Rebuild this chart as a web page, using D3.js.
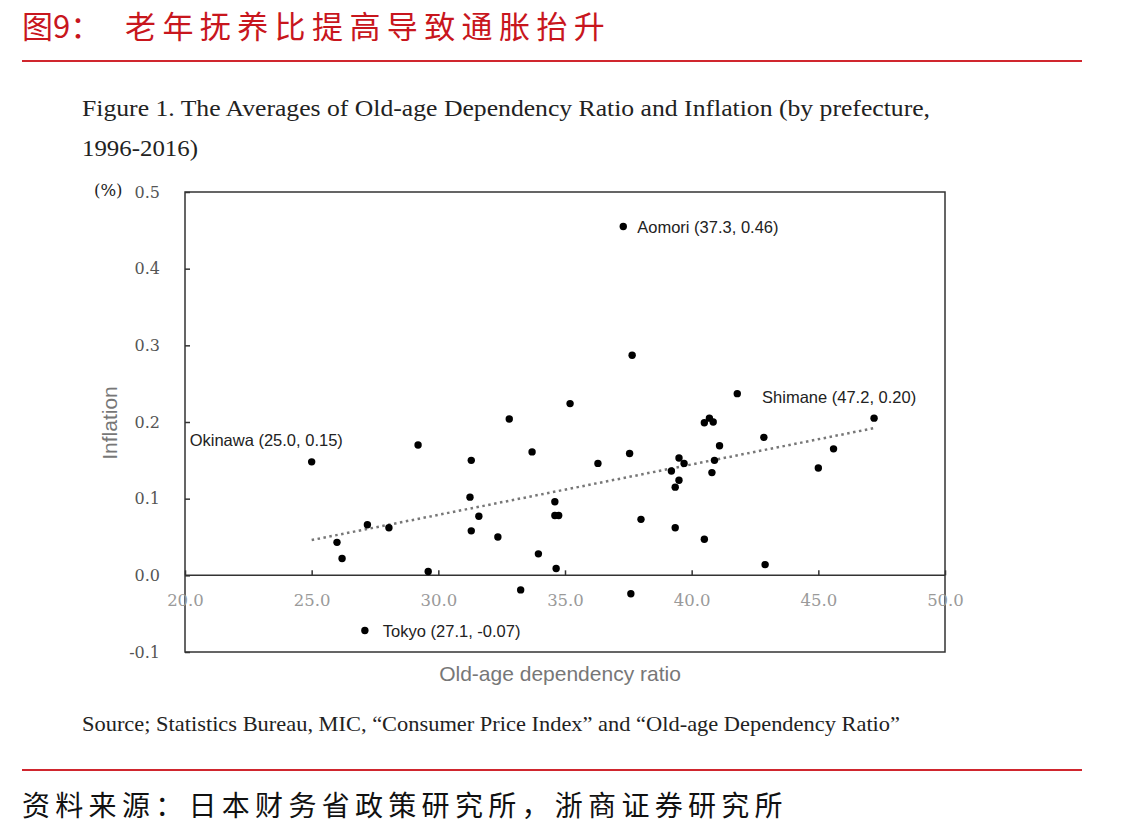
<!DOCTYPE html>
<html><head><meta charset="utf-8">
<script src="https://cdn.jsdelivr.net/npm/d3@7"></script>
<style>body{margin:0;background:#fff;}svg{display:block;}</style>
</head><body>
<script>
// Data: prefecture averages 1996-2016 (old-age dependency ratio %, inflation %)
const ratio = [25.0,26.0,26.2,27.1,27.2,28.05,29.2,29.6,31.3,31.25,31.6,31.3,32.35,32.8,33.25,33.7,33.95,34.6,34.6,34.75,34.65,35.2,36.3,37.3,37.65,37.55,37.6,38.0,39.2,39.5,39.7,39.5,39.35,39.35,40.5,40.7,40.85,40.9,40.8,41.1,40.5,41.8,42.85,42.9,45.0,45.6,47.2];
const inflation = [0.148,0.043,0.022,-0.072,0.066,0.062,0.170,0.005,0.150,0.102,0.077,0.058,0.050,0.204,-0.019,0.161,0.028,0.096,0.078,0.078,0.009,0.224,0.146,0.455,0.287,0.159,-0.024,0.073,0.136,0.153,0.146,0.124,0.115,0.062,0.199,0.205,0.200,0.150,0.134,0.169,0.047,0.237,0.180,0.014,0.140,0.165,0.205];
const trendX = [25.0, 47.2];
const trendY = [0.046, 0.192];
const xTicks = [20,25,30,35,40,45,50];
const yTicks = [-0.1,0.0,0.1,0.2,0.3,0.4,0.5];
const labels = [
  {text:"Aomori (37.3, 0.46)", x:37.3, y:0.455},
  {text:"Shimane (47.2, 0.20)", x:47.2, y:0.205},
  {text:"Okinawa (25.0, 0.15)", x:25.0, y:0.148},
  {text:"Tokyo (27.1, -0.07)", x:27.1, y:-0.072}
];

const W=1141,H=838;
const svg=d3.select("body").append("svg").attr("width",W).attr("height",H);
const red="#c8161d";
const cjk="'Noto Sans CJK SC','Noto Sans CJK JP',sans-serif";
const serif="'Liberation Serif','Times New Roman',serif";
const tickFont="'DejaVu Serif',serif";
const sans="'Liberation Sans',Arial,sans-serif";
const fmt=d=>d3.format(".1f")(d).replace("−","-");

svg.append("text").attr("x",22).attr("y",38).attr("fill",red).attr("font-family",cjk)
  .attr("font-size",31).text("图9：");
svg.append("text").attr("x",125).attr("y",38).attr("fill",red).attr("font-family",cjk)
  .attr("font-size",31).attr("letter-spacing",6.4).text("老年抚养比提高导致通胀抬升");
svg.append("line").attr("x1",22).attr("x2",1082).attr("y1",61).attr("y2",61).attr("stroke","#d0262e").attr("stroke-width",2);

svg.append("text").attr("x",82).attr("y",116).attr("fill","#222").attr("font-family",serif).attr("font-size",23.5)
  .attr("textLength",848).attr("lengthAdjust","spacingAndGlyphs")
  .text("Figure 1. The Averages of Old-age Dependency Ratio and Inflation (by prefecture,");
svg.append("text").attr("x",82).attr("y",156).attr("fill","#222").attr("font-family",serif).attr("font-size",23.5)
  .attr("textLength",116).attr("lengthAdjust","spacingAndGlyphs")
  .text("1996-2016)");

const L=185,R=945,T=192,B=652;
const x=d3.scaleLinear().domain([20,50]).range([L,R]);
const y=d3.scaleLinear().domain([-0.1,0.5]).range([B,T]);

// frame
svg.append("rect").attr("x",L).attr("y",T).attr("width",R-L).attr("height",B-T)
  .attr("fill","none").attr("stroke","#333").attr("stroke-width",1.5);

// y axis ticks (inward)
const yAxis=d3.axisLeft(y).tickValues(yTicks).tickSize(-5).tickPadding(25).tickFormat(fmt);
const gy=svg.append("g").attr("transform",`translate(${L},0)`).call(yAxis);
gy.select(".domain").remove();
gy.selectAll(".tick line").attr("stroke","#333").attr("stroke-width",1.5);
gy.selectAll(".tick text").attr("font-family",tickFont).attr("font-size",16).attr("fill","#555");

// zero line with x ticks pointing up
const xAxis=d3.axisBottom(x).tickValues(xTicks).tickSize(-5).tickPadding(19).tickFormat(fmt);
const gx=svg.append("g").attr("transform",`translate(0,${y(0)})`).call(xAxis);
gx.select(".domain").remove();
gx.append("line").attr("x1",L).attr("x2",R).attr("stroke","#333").attr("stroke-width",1.5);
gx.selectAll(".tick line").attr("stroke","#333").attr("stroke-width",1.5);
gx.selectAll(".tick text").attr("font-family",tickFont).attr("font-size",16.5).attr("fill","#9a9a9a");

svg.append("text").attr("x",94).attr("y",196).attr("font-family",tickFont).attr("font-size",16.5).attr("fill","#222").text("(%)");

svg.append("text").attr("transform",`translate(117,${(T+B)/2+1}) rotate(-90)`).attr("text-anchor","middle")
  .attr("font-family",sans).attr("font-size",21).attr("fill","#777").text("Inflation");
svg.append("text").attr("x",(L+R)/2-5).attr("y",681).attr("text-anchor","middle")
  .attr("font-family",sans).attr("font-size",21).attr("fill","#777").text("Old-age dependency ratio");

// trend
svg.append("line").attr("x1",x(trendX[0])).attr("y1",y(trendY[0])).attr("x2",x(trendX[1])).attr("y2",y(trendY[1]))
  .attr("stroke","#777").attr("stroke-width",2.5).attr("stroke-dasharray","2.5,3.5");

// points
svg.append("g").selectAll("circle").data(ratio.map((r,i)=>[r,inflation[i]])).join("circle")
  .attr("cx",d=>x(d[0])).attr("cy",d=>y(d[1])).attr("r",3.7).attr("fill","#000");

// labels
const lab=svg.append("g").attr("font-family",sans).attr("font-size",16.5).attr("fill","#222");
const off={ "Aomori (37.3, 0.46)":[14,6], "Shimane (47.2, 0.20)":[-112,-15], "Okinawa (25.0, 0.15)":[-122,-16], "Tokyo (27.1, -0.07)":[18,6]};
labels.forEach(l=>{
  lab.append("text").attr("x",x(l.x)+off[l.text][0]).attr("y",y(l.y)+off[l.text][1]).text(l.text);
});

svg.append("text").attr("x",82).attr("y",731).attr("fill","#222").attr("font-family",serif).attr("font-size",21)
  .attr("textLength",818).attr("lengthAdjust","spacingAndGlyphs")
  .text("Source; Statistics Bureau, MIC, “Consumer Price Index” and “Old-age Dependency Ratio”");
svg.append("line").attr("x1",22).attr("x2",1082).attr("y1",770).attr("y2",770).attr("stroke","#d0262e").attr("stroke-width",2);
svg.append("text").attr("x",22).attr("y",816).attr("fill","#111").attr("font-family",cjk).attr("font-size",28)
  .attr("letter-spacing",5.3).text("资料来源：日本财务省政策研究所，浙商证券研究所");
</script>
</body></html>
